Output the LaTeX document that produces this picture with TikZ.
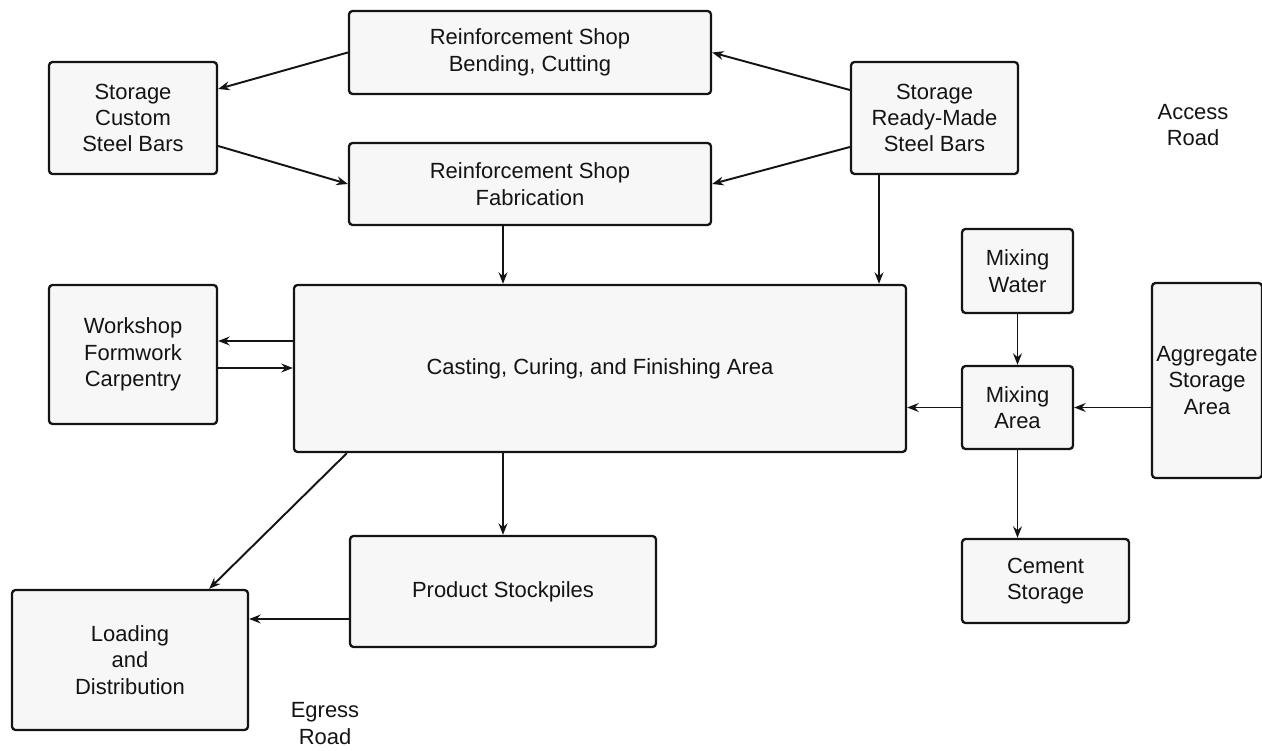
\documentclass[tikz,border=0pt]{standalone}
\usepackage{fontspec}
\setmainfont{Liberation Sans}
\usetikzlibrary{calc,positioning,arrows.meta}
\definecolor{BoxFill}{HTML}{F7F7F7}
\definecolor{Ink}{HTML}{141414}

\begin{document}
\begin{tikzpicture}[every node/.style={align=center,font=\fontsize{12.5}{15}\selectfont,text=Ink},
  area/.style={draw=Ink,fill=BoxFill,line width=1.3pt,rounded corners=2pt,inner sep=0pt},
  flow/.style={-{Stealth[length=6.5pt,width=5pt]},Ink,line width=1.1pt}]
  \useasboundingbox (0,0) rectangle (25.24,-15.02);
  % steel bars and reinforcement shop
  \node[area,minimum width=7.24cm,minimum height=1.66cm] (bend) at (10.6,-1.05) {Reinforcement Shop\\Bending, Cutting};
  \node[area,minimum width=3.36cm,minimum height=2.24cm] (custom) at (2.66,-2.36) {Storage\\Custom\\Steel Bars};
  \node[area,minimum width=3.34cm,minimum height=2.24cm] (ready) at (18.69,-2.36) {Storage\\Ready-Made\\Steel Bars};
  \node[area,minimum width=7.24cm,minimum height=1.64cm] (fab) at (10.6,-3.68) {Reinforcement Shop\\Fabrication};
  % main area
  \node[area,minimum width=12.24cm,minimum height=3.34cm] (cast) at (12.0,-7.37) {Casting, Curing, and Finishing Area};
  \node[area,minimum width=3.36cm,minimum height=2.78cm] (work) at (2.66,-7.09) {Workshop\\Formwork\\Carpentry};
  % concrete side
  \node[area,minimum width=2.22cm,minimum height=1.68cm] (water) at (20.35,-5.42) {Mixing\\Water};
  \node[area,minimum width=2.22cm,minimum height=1.66cm] (mix) at (20.35,-8.15) {Mixing\\Area};
  \node[area,minimum width=2.2cm,minimum height=3.9cm] (aggr) at (24.14,-7.61) {Aggregate\\Storage\\Area};
  \node[area,minimum width=3.34cm,minimum height=1.68cm] (cement) at (20.91,-11.62) {Cement\\Storage};
  % output
  \node[area,minimum width=6.12cm,minimum height=2.22cm] (prod) at (10.06,-11.83) {Product Stockpiles};
  \node[area,minimum width=4.72cm,minimum height=2.8cm] (load) at (2.6,-13.2) {Loading\\and\\Distribution};
  \node (access) at (23.86,-2.5) {Access\\Road};
  \node (egress) at (6.5,-14.47) {Egress\\Road};

  \draw[flow] (bend.west) -- ([yshift=.58cm]custom.east);
  \draw[flow] ([yshift=-.56cm]custom.east) -- (fab.west);
  \draw[flow] ([yshift=.56cm]ready.west) -- (bend.east);
  \draw[flow] ([yshift=-.58cm]ready.west) -- (fab.east);
  \draw[flow] (fab.south -| prod.north) -- (cast.north -| prod.north);
  \coordinate (rdrop) at ([xshift=-1.11cm]ready.south);
  \draw[flow] (rdrop) -- (rdrop |- cast.north);
  \draw[flow] ([yshift=.27cm]work.east -| cast.west) -- ([yshift=.27cm]work.east);
  \draw[flow] ([yshift=-.27cm]work.east) -- ([yshift=-.27cm]work.east -| cast.west);
  \draw[flow] (water.south) -- (mix.north);
  \draw[flow] (aggr.west |- mix.east) -- (mix.east);
  \draw[flow] (mix.west) -- (mix.west -| cast.east);
  \draw[flow] (mix.south) -- (mix.south |- cement.north);
  \draw[flow] (cast.south -| prod.north) -- (prod.north);
  \draw[flow] ([xshift=1.08cm]cast.south west) -- ([xshift=-.8cm]load.north east);
  \draw[flow] ([yshift=-.55cm]prod.west) -- ([yshift=-.55cm]prod.west -| load.east);
\end{tikzpicture}
\end{document}
